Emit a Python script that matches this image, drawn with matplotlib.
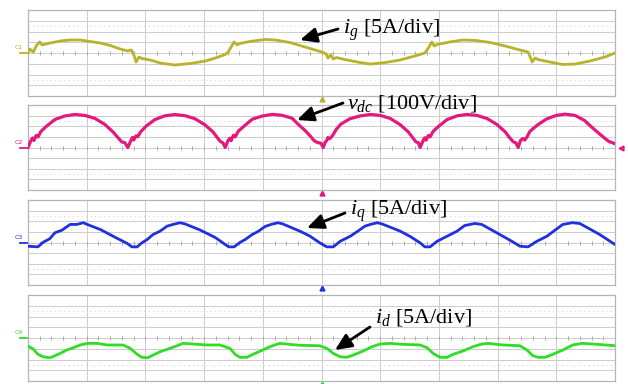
import matplotlib
matplotlib.use("Agg")
import matplotlib.pyplot as plt
from matplotlib.patches import FancyArrowPatch
import numpy as np

plt.rcParams['mathtext.fontset'] = 'custom'
plt.rcParams['mathtext.rm'] = 'Liberation Serif'
plt.rcParams['mathtext.it'] = 'Liberation Serif:italic'

# traces, in divisions (x: 0..10, y: -4..4)
ig_t = [0, 0.03, 0.09, 0.15, 0.20, 0.24, 0.38, 0.55, 0.72, 0.89, 1.06, 1.23, 1.40, 1.57, 1.70, 1.76,
        1.81, 1.84, 1.89, 1.94, 2.08, 2.25, 2.50, 2.76, 3.02, 3.19, 3.36, 3.41, 3.46, 3.51, 3.56, 3.61,
        3.78, 4.04, 4.21, 4.46, 4.72, 4.89, 5.01, 5.08, 5.11, 5.16, 5.20, 5.25, 5.40, 5.66, 5.83, 6.08,
        6.34, 6.59, 6.76, 6.81, 6.88, 6.92, 6.97, 7.19, 7.41, 7.62, 7.87, 8.13, 8.38, 8.52, 8.59, 8.64,
        8.69, 8.89, 9.11, 9.32, 9.57, 9.83, 10.0]
ig_v = [0, 0.37, 0.09, 0.75, 1.03, 0.75, 0.93, 1.12, 1.21, 1.21, 1.07, 0.93, 0.70, 0.37, 0.19, 0.28,
        -0.28, -0.84, -0.37, -0.51, -0.65, -0.93, -1.12, -0.98, -0.75, -0.47, -0.14, 0.09, 0.56, 1.03, 0.75, 0.89,
        1.07, 1.26, 1.21, 0.98, 0.56, 0.28, 0.09, -0.09, -0.47, -0.19, -0.56, -0.42, -0.61, -0.89, -1.03, -0.89,
        -0.65, -0.28, 0.0, 0.37, 1.03, 0.65, 0.79, 1.03, 1.21, 1.17, 0.98, 0.65, 0.28, 0.09, -0.84, -0.47,
        -0.61, -0.84, -1.07, -1.03, -0.75, -0.37, 0.0]

vdc_t = [0, 0.05, 0.08, 0.10, 0.14, 0.17, 0.22, 0.31, 0.46, 0.63, 0.80, 0.97, 1.14, 1.31, 1.45, 1.53, 1.60, 1.65,
         1.70, 1.75, 1.78, 1.80, 1.84, 1.87, 1.92, 2.01, 2.16, 2.33, 2.50, 2.67, 2.84, 3.01, 3.15, 3.22, 3.28, 3.32,
         3.36, 3.41, 3.44, 3.46, 3.50, 3.53, 3.58, 3.67, 3.82, 3.99, 4.16, 4.33, 4.50, 4.60, 4.72, 4.80, 4.88, 4.93, 4.99,
         5.03, 5.06, 5.09, 5.11, 5.14, 5.19, 5.25, 5.33, 5.48, 5.66, 5.83, 6.00, 6.17, 6.34, 6.48, 6.55, 6.61, 6.65,
         6.68, 6.73, 6.76, 6.78, 6.82, 6.85, 6.90, 6.99, 7.14, 7.31, 7.48, 7.65, 7.82, 7.99, 8.13, 8.20, 8.27, 8.31,
         8.35, 8.39, 8.43, 8.46, 8.50, 8.55, 8.62, 8.70, 8.84, 9.00, 9.15, 9.32, 9.48, 9.57, 9.70, 9.83, 9.90, 9.95, 10.0]
vdc_v = [0, 0.66, 0.90, 0.66, 1.13, 0.99, 1.51, 1.98, 2.64, 2.97, 3.11, 3.02, 2.74, 2.17, 1.46, 0.94, 0.52, 0.45,
         0, 0.62, 0.95, 0.70, 1.10, 1.02, 1.48, 2.00, 2.62, 2.98, 3.10, 3.00, 2.72, 2.15, 1.48, 0.96, 0.55, 0.45,
         0, 0.68, 0.88, 0.64, 1.15, 1.00, 1.52, 1.96, 2.66, 2.96, 3.12, 3.03, 2.75, 2.20, 1.60, 1.13, 0.62, 0.47, 0.40,
         0, 0.47, 0.66, 0.94, 0.82, 1.13, 1.70, 2.20, 2.70, 2.97, 3.11, 3.02, 2.74, 2.15, 1.46, 0.95, 0.52, 0.45,
         0, 0.64, 0.92, 0.68, 1.12, 1.00, 1.50, 1.97, 2.63, 2.98, 3.11, 3.02, 2.73, 2.16, 1.47, 0.95, 0.52, 0.45,
         0, 0.66, 0.85, 0.70, 0.98, 1.51, 1.85, 2.20, 2.70, 3.02, 3.14, 3.02, 2.55, 2.08, 1.45, 0.85, 0.55, 0.47, 0.35]

iq_t = [0, 0.17, 0.26, 0.37, 0.46, 0.58, 0.66, 0.72, 0.83, 0.94, 1.01, 1.23, 1.45, 1.69, 1.77, 1.86,
        1.94, 2.03, 2.13, 2.25, 2.37, 2.47, 2.59, 2.67, 2.93, 3.19, 3.36, 3.42, 3.51,
        3.61, 3.70, 3.82, 3.92, 4.04, 4.14, 4.26, 4.34, 4.63, 4.80, 4.97, 5.09, 5.20,
        5.32, 5.49, 5.62, 5.74, 5.83, 5.95, 6.03, 6.34, 6.51, 6.68, 6.76, 6.85,
        6.97, 7.14, 7.31, 7.44, 7.61, 7.73, 8.09, 8.25, 8.38, 8.52,
        8.67, 8.84, 9.01, 9.11, 9.27, 9.40, 9.74, 10.0]
iq_v = [-0.35, -0.41, 0.03, 0.35, 0.92, 1.16, 1.48, 1.70, 1.70, 1.86, 1.70, 1.23, 0.59, -0.09, -0.41, -0.41,
        -0.03, 0.28, 0.75, 1.07, 1.54, 1.70, 1.86, 1.76, 1.18, 0.47, -0.19, -0.41, -0.41,
        0.0, 0.28, 0.75, 1.04, 1.51, 1.70, 1.86, 1.75, 1.07, 0.61, -0.03, -0.41, -0.41,
        0.12, 0.59, 1.07, 1.54, 1.70, 1.86, 1.75, 1.07, 0.57, -0.03, -0.41, -0.41,
        0.12, 0.59, 1.07, 1.60, 1.79, 1.70, 0.59, 0.09, -0.35, -0.41,
        0.12, 0.59, 1.29, 1.70, 1.86, 1.79, 0.75, -0.19]

id_t = [0, 0.09, 0.17, 0.26, 0.37, 0.46, 0.55, 0.66, 0.77, 0.89, 1.01, 1.18, 1.35, 1.62,
        1.74, 1.86, 1.94, 2.04, 2.13, 2.25, 2.42, 2.54, 2.64, 2.81, 3.05, 3.27,
        3.44, 3.53, 3.61, 3.73, 3.83, 4.00, 4.12, 4.29, 4.46, 4.63, 4.97,
        5.09, 5.20, 5.32, 5.43, 5.54, 5.71, 5.86, 6.00, 6.17, 6.39, 6.68,
        6.80, 6.90, 7.02, 7.14, 7.24, 7.41, 7.58, 7.73, 7.84, 8.09, 8.38,
        8.50, 8.60, 8.69, 8.81, 8.94, 9.11, 9.28, 9.44, 9.63, 10.0]
id_v = [-0.75, -1.03, -1.52, -1.75, -1.84, -1.65, -1.43, -1.12, -0.91, -0.65, -0.50, -0.50, -0.65, -0.65,
        -0.96, -1.52, -1.80, -1.84, -1.59, -1.28, -0.96, -0.72, -0.50, -0.56, -0.65, -0.65,
        -0.96, -1.52, -1.80, -1.80, -1.52, -1.12, -0.81, -0.50, -0.59, -0.68, -0.72,
        -0.96, -1.43, -1.75, -1.80, -1.59, -1.21, -0.81, -0.56, -0.50, -0.59, -0.65,
        -0.91, -1.43, -1.80, -1.80, -1.52, -1.21, -0.81, -0.56, -0.50, -0.65, -0.72,
        -1.12, -1.65, -1.80, -1.80, -1.52, -1.12, -0.65, -0.50, -0.56, -0.72]

channels = ["C1", "C2", "C3", "C4"]
labels = [r"$i_g$ [5A/div]", r"$v_{dc}$ [100V/div]", r"$i_q$ [5A/div]", r"$i_d$ [5A/div]"]
colors = ["#b9b22c", "#e3197c", "#1f30e0", "#2fdc26"]

W, H = 628, 384
fig = plt.figure(figsize=(6.28, 3.84), dpi=100)

# panel boxes in screen pixels: (top, bottom)
boxes = [(10, 96), (105, 190), (200, 285), (295, 381)]
traces = [(ig_t, ig_v), (vdc_t, vdc_v), (iq_t, iq_v), (id_t, id_v)]
grid_c = "#cccccc"

axes = []
for i, (top, bot) in enumerate(boxes):
    ax = fig.add_axes([28 / W, (H - bot) / H, 587 / W, (bot - top) / H])
    ax.set_xlim(0, 10)
    ax.set_ylim(-4, 4)
    ax.set_xticks([])
    ax.set_yticks([])
    for s in ax.spines.values():
        s.set_color("#b5b5b5")
        s.set_linewidth(0.9)
    for x in range(1, 10):
        ax.axvline(x, color=grid_c, lw=0.7, zorder=0)
    for y in range(-3, 4):
        ax.axhline(y, color=grid_c, lw=0.7, zorder=0)
    for y in (-2.5, 2.5):
        ax.axhline(y, color="#d8d8d8", lw=0.8, ls=(0, (1, 3)), zorder=0)
    ax.plot(np.arange(0.2, 10, 0.2), np.zeros(49), ls="none", marker="|",
            ms=3, mew=0.7, color="#aaaaaa", zorder=0)
    t, v = traces[i]
    ax.plot(t, v, color=colors[i], lw=2.3 if i == 1 else 2.0, zorder=3)
    # channel tag at the left edge
    ax.plot([-0.14, 0], [0, 0], color=colors[i], lw=1.3, clip_on=False)
    ax.text(-0.16, 0.25, channels[i], color=colors[i], fontsize=4.5,
            ha="center", va="bottom")
    # trigger position marker below each panel
    ax.plot(5, -4.3, marker="^", ms=3.5, color=colors[i], clip_on=False)
    axes.append(ax)

axes[1].plot(10.1, 0, marker="<", ms=3.5, color=colors[1], clip_on=False)

# labels and arrows, positions in screen pixels
text_pos = [(343, 34), (347, 108), (350, 215), (375, 323)]
arrows = [((338, 29), (300, 40)), ((343, 103), (297, 120)),
          ((345, 213), (307, 228)), ((370, 327), (335, 350))]
for (tx, ty), lab in zip(text_pos, labels):
    fig.text(tx / W, (H - ty) / H, lab, fontsize=16, family="Liberation Serif",
             ha="left", va="baseline")
for (a, b) in arrows:
    arr = FancyArrowPatch((a[0] / W, (H - a[1]) / H), (b[0] / W, (H - b[1]) / H),
                          transform=fig.transFigure, arrowstyle="-|>,head_length=10,head_width=4.5",
                          lw=2.0, color="black", shrinkA=0, shrinkB=0, zorder=5)
    fig.add_artist(arr)

fig.savefig("out.png", dpi=100)
